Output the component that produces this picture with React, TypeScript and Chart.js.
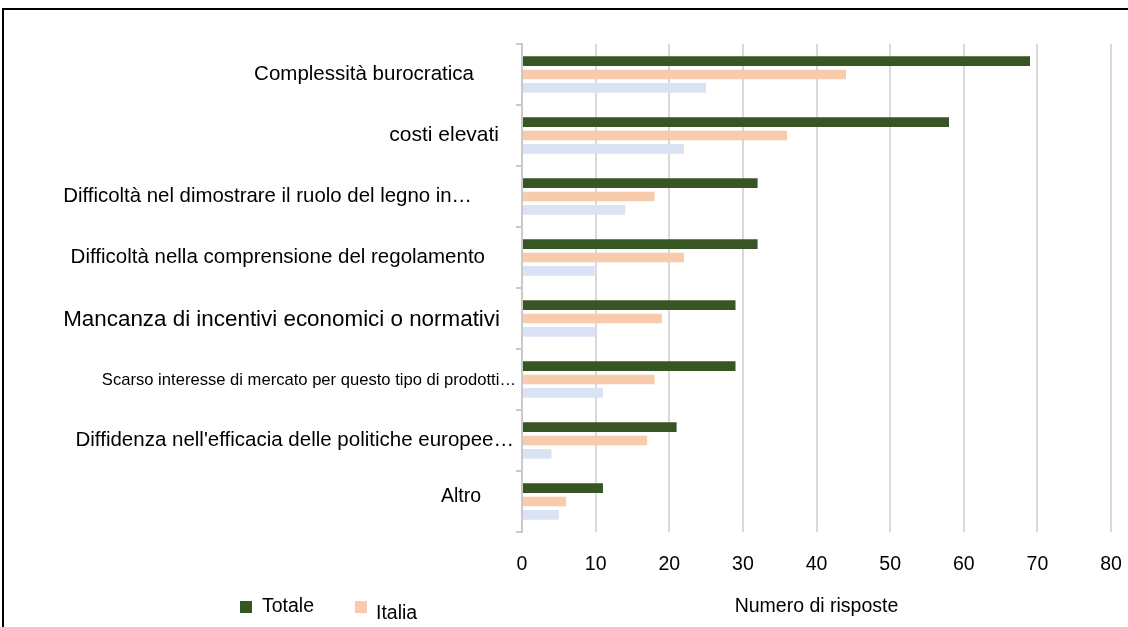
import React, { useEffect, useRef } from "react";
import { Chart, registerables } from "chart.js";

Chart.register(...registerables);

// ---------- data ----------
const categories = [
  "Complessità burocratica",
  "costi elevati",
  "Difficoltà nel dimostrare il ruolo del legno in…",
  "Difficoltà nella comprensione del regolamento",
  "Mancanza di incentivi economici o normativi",
  "Scarso interesse di mercato per questo tipo di prodotti…",
  "Diffidenza nell'efficacia delle politiche europee…",
  "Altro",
];
const seriesNames = ["Totale", "Italia", "Altri paesi"];
const totale = [69, 58, 32, 32, 29, 29, 21, 11];
const italia = [44, 36, 18, 22, 19, 18, 17, 6];
const altriPaesi = [25, 22, 14, 10, 10, 11, 4, 5];
const xTickValues = [0, 10, 20, 30, 40, 50, 60, 70, 80];
const xAxisTitle = "Numero di risposte";

// ---------- styles ----------
const FONT = '"Liberation Sans", Arial, sans-serif';
const seriesColors = ["#375623", "#F8CBAD", "#DAE3F3"];
const labelRightX = [474, 499, 472, 485, 500, 516, 514, 481];
const labelFontSize = [20.5, 21, 20.4, 20.5, 22.4, 16.6, 20.5, 19.5];
const labelDy = [0, 0, 0, 0, 1, 1, 0, -5];
const legendSwatchX = [240, 355];
const legendTextX = [262, 376];
const legendTextY = [607, 614];
const legendSwatchY = 601;

const customDraw = {
  id: "customDraw",
  afterDraw(chart: any) {
    const ctx = chart.ctx as CanvasRenderingContext2D;
    const yScale = chart.scales.y;
    ctx.save();
    ctx.fillStyle = "#000";
    ctx.textAlign = "right";
    ctx.textBaseline = "middle";
    (chart.data.labels as string[]).forEach((lab, i) => {
      ctx.font = `${labelFontSize[i]}px ${FONT}`;
      ctx.fillText(lab, labelRightX[i], yScale.getPixelForValue(i) + labelDy[i]);
    });
    // legend (first two series visible in the reference)
    ctx.textAlign = "left";
    ctx.font = `19.5px ${FONT}`;
    for (let i = 0; i < 2; i++) {
      const ds = chart.data.datasets[i];
      ctx.fillStyle = ds.backgroundColor as string;
      ctx.fillRect(legendSwatchX[i], legendSwatchY, 12, 12);
      ctx.fillStyle = "#000";
      ctx.fillText(ds.label, legendTextX[i], legendTextY[i]);
    }
    ctx.restore();
  },
};

export default function App() {
  const canvasRef = useRef<HTMLCanvasElement | null>(null);

  useEffect(() => {
    if (!canvasRef.current) return;
    const chart = new Chart(canvasRef.current, {
      type: "bar",
      data: {
        labels: categories,
        datasets: [
          { label: seriesNames[0], data: totale, backgroundColor: seriesColors[0] },
          { label: seriesNames[1], data: italia, backgroundColor: seriesColors[1] },
          { label: seriesNames[2], data: altriPaesi, backgroundColor: seriesColors[2] },
        ],
      },
      options: {
        indexAxis: "y",
        animation: false,
        responsive: false,
        maintainAspectRatio: false,
        layout: { padding: { top: 44, right: 17, left: 0, bottom: 0 } },
        datasets: {
          bar: { categoryPercentage: 0.66, barPercentage: 0.72 },
        },
        plugins: {
          legend: { display: false },
          tooltip: { enabled: false },
        },
        scales: {
          x: {
            min: 0,
            max: 80,
            afterBuildTicks: (scale: any) => {
              scale.ticks = xTickValues.map((v) => ({ value: v }));
            },
            afterFit: (scale: any) => {
              scale.height = 95;
              scale.paddingRight = 11;
              scale.paddingLeft = 6;
            },
            grid: { color: "#d9d9d9", lineWidth: 2, drawTicks: false },
            border: { display: false },
            ticks: {
              padding: 21,
              color: "#000",
              font: { family: FONT, size: 19.5 },
            },
            title: {
              display: true,
              text: xAxisTitle,
              color: "#000",
              font: { family: FONT, size: 19.5 },
              padding: { top: 0, bottom: 9 },
            },
          },
          y: {
            afterFit: (scale: any) => {
              scale.width = 522;
            },
            grid: {
              drawOnChartArea: false,
              drawTicks: true,
              tickLength: 6,
              color: "#c9c9c9",
              lineWidth: 2,
            },
            border: { display: true, color: "#c9c9c9", width: 2 },
            ticks: { display: false },
          },
        },
      },
      plugins: [customDraw],
    } as any);
    return () => chart.destroy();
  }, []);

  return (
    <div
      style={{
        position: "absolute",
        left: 0,
        top: 0,
        width: 1128,
        height: 627,
        overflow: "hidden",
        background: "#fff",
      }}
    >
      <canvas ref={canvasRef} width={1128} height={627} style={{ width: 1128, height: 627, display: "block" }} />
      <div
        style={{
          position: "absolute",
          left: 2,
          top: 8,
          width: 1200,
          height: 800,
          border: "2px solid #000",
          pointerEvents: "none",
        }}
      />
    </div>
  );
}
